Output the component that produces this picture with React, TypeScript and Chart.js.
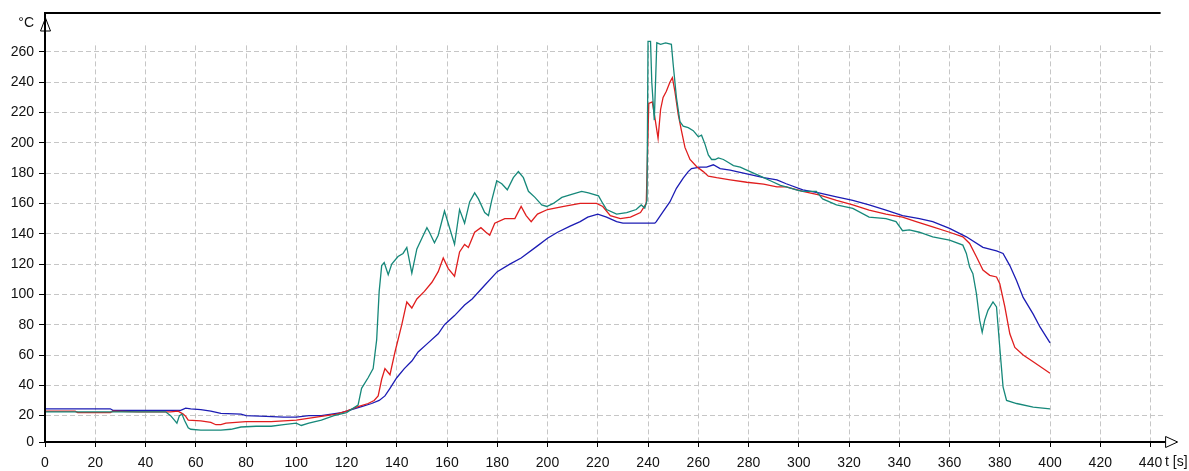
import React, { useEffect, useRef } from 'react';
import { Chart, registerables } from 'chart.js';

Chart.register(...registerables);

// ---- axis ticks ----
const xTicks = [0, 20, 40, 60, 80, 100, 120, 140, 160, 180, 200, 220, 240, 260, 280, 300, 320, 340, 360, 380, 400, 420, 440];
const yTicks = [0, 20, 40, 60, 80, 100, 120, 140, 160, 180, 200, 220, 240, 260];
const yLabel = '°C';
const xLabel = 't [s]';

// ---- blue series ----
const tBlue = [0, 26, 27, 50, 54, 56, 58, 62, 66, 70, 78, 80, 88, 95, 100, 105, 110, 114, 118, 122, 126, 130, 133, 135.3, 137.3, 140, 143, 146, 148.5, 152.5, 156.5, 159, 163, 167, 170, 175, 180, 185, 189.5, 196, 200, 204, 209, 213, 216, 220, 223.5, 227.5, 230, 242.7, 243.3, 246, 248.7, 251.3, 254, 256, 257.3, 260.7, 263.3, 266, 268.7, 272.7, 275.3, 280.7, 286, 291.3, 295, 301.6, 308, 315, 321.5, 328, 334.7, 341.3, 348, 353.3, 360, 366.7, 373.3, 378.7, 381.3, 384, 386.7, 389.3, 393.3, 396, 400];
const blue = [24.5, 24.5, 23.5, 23.5, 23.5, 25, 24.5, 24, 23, 21.5, 21, 20, 19.5, 19, 19, 20, 20, 21, 22, 24, 26, 28, 30, 33, 38, 45, 51, 56, 62, 68, 74, 80, 86, 93, 97, 106, 115, 120, 124, 132, 137, 141, 145, 148, 151, 153, 151, 148, 147, 147, 148, 154.6, 161, 170, 176.7, 181, 183, 184, 184, 185.5, 183, 182, 181, 179, 177, 175.6, 173, 169, 167, 164.4, 162, 159, 155.6, 152, 150, 148, 143.5, 138, 131, 128.7, 127, 119, 109, 98, 87, 78.5, 68];

// ---- red series ----
const tRed = [0, 12, 13, 26, 27, 37, 50, 53, 55, 56, 57, 62, 66, 68, 70, 72, 80, 90, 100, 104, 108, 112, 116, 120, 124.6, 128.6, 131, 132.6, 134, 135.3, 137.3, 139.3, 142, 144, 146, 148, 151, 154, 156.5, 158.5, 160.5, 163, 165, 167, 168.5, 171, 173.5, 175.5, 177, 179, 183, 187, 189.5, 191.5, 193.5, 196, 200, 206.5, 213, 219.5, 222, 225, 229, 233, 237, 239.3, 240.3, 241.7, 242.7, 244, 245, 246, 247.3, 248.7, 249.7, 250.7, 252, 253.3, 254.7, 256.7, 259.3, 262, 264, 267.3, 272.7, 279.3, 286, 291.3, 295, 301.6, 308, 315, 321.5, 328, 334.7, 341.3, 346.7, 353.3, 360, 365.3, 368, 370.7, 373.3, 376, 378.7, 380, 382, 384, 386, 389.3, 393.3, 400];
const red = [23, 23, 22, 22, 23, 22.5, 22.5, 23, 21, 19.5, 17, 16.5, 15.5, 14, 14, 15, 16, 16, 17, 18, 19, 20, 21, 23, 26, 28, 30, 33, 44, 51, 47, 62, 80, 95, 91, 97, 102, 108, 115, 124, 117, 112, 128, 133, 131, 141, 144, 141, 139, 147, 150, 150, 158, 152, 148, 153, 156, 158, 160, 160, 158, 152, 150, 151, 154, 160, 226, 227, 217, 203, 222, 230, 234, 240, 243, 234, 219, 208, 197, 189, 184.4, 181, 178, 177, 175.6, 174, 172.7, 171, 171, 168, 165.6, 162, 159, 155.6, 153, 151, 148, 144.6, 141, 138, 133.6, 124.8, 116, 112.6, 111.5, 107, 92, 74, 65, 60, 55.6, 48];

// ---- teal series ----
const tTeal = [0, 48, 50, 51.5, 52.5, 53.5, 54.5, 55.5, 57, 58, 62, 70, 74, 78, 84, 90, 95, 100, 102, 105, 110, 115, 120, 124.6, 126, 128.6, 130.6, 132, 133, 134, 135, 136.6, 138, 140.5, 142.5, 144, 146, 148, 150, 152, 153, 155, 156.5, 159, 161, 163, 165, 167, 169, 171, 172.5, 175, 176.5, 177.8, 179.8, 181.8, 184, 186.4, 188.4, 190.4, 192.4, 195, 197.7, 199.7, 202.3, 205.7, 209.6, 213.6, 216.3, 220.3, 222, 223.5, 227.5, 231.5, 235.3, 237.3, 238.7, 239.6, 240, 241, 241.5, 242.5, 243.5, 245, 247, 249.3, 250, 251.3, 252.7, 254, 256, 258, 260, 261.3, 262.7, 264, 265.3, 266.7, 268, 270, 272, 274, 276.7, 279.3, 282, 284.7, 288.7, 292.7, 295, 299, 301.6, 307, 309.5, 315, 321.5, 328, 334.7, 338.7, 341.3, 344, 348, 353.3, 360, 365.3, 366.7, 368, 369.3, 370.7, 372, 373, 374, 375.3, 377.3, 378.7, 380, 381.3, 382.7, 386.7, 393.3, 400];
const teal = [22.5, 22.5, 20, 17, 15, 20, 21, 17, 12, 11, 10.5, 10.5, 11, 12.5, 13, 13, 14, 15, 13.5, 15, 17, 20, 22, 27, 38, 45, 51, 70, 102, 119, 121, 113, 120, 125, 127, 131, 114, 130, 137, 144, 141, 134, 139, 155, 144, 133, 156, 147, 161, 167, 163, 154, 152, 162, 175, 173, 169, 177, 181, 177, 168, 164, 159, 158, 160, 164, 166, 168, 167, 165, 160, 156, 153, 154, 156, 159, 157, 162, 267, 267, 240, 215, 266, 265, 266, 265, 252, 230, 214, 211, 210, 208, 204, 205, 199, 192, 189, 189, 190, 189, 187, 185, 184, 182, 180, 178, 175, 172, 171, 169, 168, 168, 163, 159, 156.7, 151, 150, 148, 142, 142.6, 141, 138, 135.8, 132.5, 127, 118, 113.7, 100.5, 83, 75, 83, 89.5, 95, 91.7, 65, 39, 30, 28, 25.6, 24.5];

const FONT = { family: '"Liberation Sans", Arial, sans-serif', size: 14 };
const GRID = '#c6c6c6';
const Y_MIN = 2.6;
const Y_MAX = 285.4;
const X_MAX = 445.2;

const pts = (t: number[], v: number[]) => t.map((x, i) => ({ x, y: v[i] }));

const decor = {
  id: 'decor',
  beforeDatasetsDraw(chart: any) {
    const { ctx, chartArea, scales } = chart;
    const yTop = scales.y.getPixelForValue(266);
    ctx.save();
    ctx.fillStyle = '#fff';
    ctx.fillRect(chartArea.left + 2, chartArea.top, chartArea.right - chartArea.left + 2, yTop - chartArea.top);
    ctx.restore();
  },
  afterDraw(chart: any) {
    const { ctx, chartArea } = chart;
    const L = Math.round(chartArea.left);
    const T = Math.round(chartArea.top);
    const R = chartArea.right;
    const B = Math.round(chartArea.bottom);
    ctx.save();
    ctx.strokeStyle = '#000';
    ctx.lineWidth = 2;
    ctx.beginPath(); ctx.moveTo(L, T); ctx.lineTo(R - 3, T); ctx.stroke();
    ctx.beginPath(); ctx.moveTo(L, B); ctx.lineTo(L, T); ctx.stroke();
    ctx.beginPath(); ctx.moveTo(L, B); ctx.lineTo(R + 2, B); ctx.stroke();
    ctx.lineWidth = 1;
    ctx.fillStyle = '#fff';
    ctx.beginPath(); ctx.moveTo(L + 0.5, T + 5); ctx.lineTo(L + 5.5, T + 18); ctx.lineTo(L - 4.5, T + 18); ctx.closePath(); ctx.stroke();
    ctx.beginPath(); ctx.moveTo(R + 2, B - 5.5); ctx.lineTo(R + 14, B); ctx.lineTo(R + 2, B + 5.5); ctx.closePath(); ctx.fill(); ctx.stroke();
    ctx.fillStyle = '#111';
    ctx.font = '14px "Liberation Sans", Arial, sans-serif';
    ctx.textBaseline = 'middle';
    ctx.textAlign = 'right';
    ctx.fillText(yLabel, 34, 23);
    ctx.textAlign = 'left';
    ctx.fillText(xLabel, 1165, 462);
    ctx.restore();
  },
};

export default function App() {
  const ref = useRef<HTMLCanvasElement | null>(null);
  useEffect(() => {
    if (!ref.current) return;
    const chart = new Chart(ref.current, {
      type: 'line',
      data: {
        datasets: [
          { data: pts(tTeal, teal), borderColor: '#16887a', borderWidth: 1.3, pointRadius: 0, fill: false, tension: 0 },
          { data: pts(tRed, red), borderColor: '#e01e1e', borderWidth: 1.3, pointRadius: 0, fill: false, tension: 0 },
          { data: pts(tBlue, blue), borderColor: '#1c1cb4', borderWidth: 1.3, pointRadius: 0, fill: false, tension: 0 },
        ],
      },
      options: {
        animation: false,
        responsive: false,
        layout: { padding: { top: 13, right: 1189 - 1163.6, left: 0, bottom: 0 } },
        plugins: { legend: { display: false }, tooltip: { enabled: false } },
        scales: {
          x: {
            type: 'linear',
            min: 0,
            max: X_MAX,
            afterFit: (s: any) => { s.height = 29; },
            afterBuildTicks: (s: any) => { s.ticks = xTicks.map((v) => ({ value: v })); },
            ticks: { font: FONT, color: '#111', padding: 8, maxRotation: 0, autoSkip: false, callback: (v: any) => String(v) },
            grid: {
              color: (c: any) => (c.tick && c.tick.value === 0 ? 'rgba(0,0,0,0)' : GRID),
              tickColor: '#000',
              tickLength: 5,
              lineWidth: 1,
            },
            border: { display: true, color: '#000', width: 2, dash: [5, 3] },
          },
          y: {
            type: 'linear',
            min: Y_MIN,
            max: Y_MAX,
            afterFit: (s: any) => { s.width = 45; },
            afterBuildTicks: (s: any) => { s.ticks = yTicks.map((v) => ({ value: v === 0 ? Y_MIN : v })); },
            ticks: { font: FONT, color: '#111', padding: 5, callback: (v: any) => (v < 10 ? '0' : String(Math.round(v))) },
            grid: {
              color: (c: any) => (c.tick && c.tick.value < 10 ? 'rgba(0,0,0,0)' : GRID),
              tickColor: '#000',
              tickLength: 6,
              lineWidth: 1,
            },
            border: { display: true, color: '#000', width: 2, dash: [5, 3] },
          },
        },
      },
      plugins: [decor],
    });
    return () => chart.destroy();
  }, []);
  return (
    <div style={{ position: 'fixed', left: 0, top: 0, width: 1189, height: 471, background: '#fff' }}>
      <canvas ref={ref} width={1189} height={471} />
    </div>
  );
}
